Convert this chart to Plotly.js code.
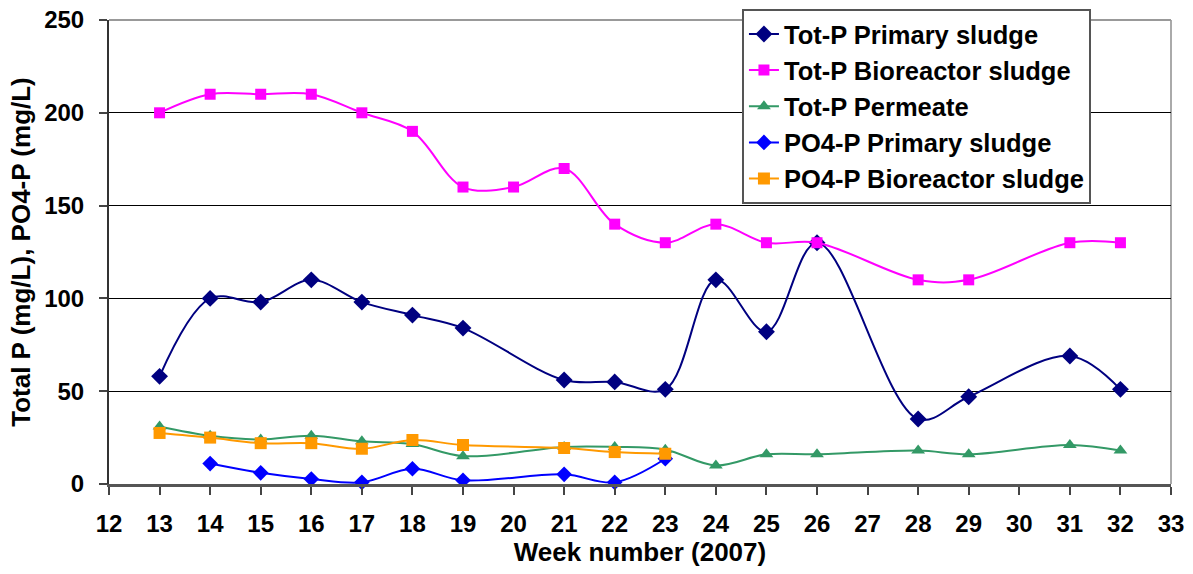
<!DOCTYPE html>
<html>
<head>
<meta charset="utf-8">
<script src="https://cdn.plot.ly/plotly-3.0.1.min.js"></script>
<style>html,body{margin:0;padding:0;background:#fff;}#chart{width:1193px;height:574px;}</style>
</head>
<body>
<div id="chart"></div>
<script>
// Week numbers (2007)
const weeksTotPrimary = [13,14,15,16,17,18,19,21,22,23,24,25,26,28,29,31,32];
const totPPrimary     = [58,100,98,110,98,91,84,56,55,51,110,82,130,35,47,69,51];

const weeksTotBio = [13,14,15,16,17,18,19,20,21,22,23,24,25,26,28,29,31,32];
const totPBio     = [200,210,210,210,200,190,160,160,170,140,130,140,130,130,110,110,130,130];

const weeksPermeate = [13,14,15,16,17,18,19,21,22,23,24,25,26,28,29,31,32];
const totPPermeate  = [31,26,24,26,23,21.5,15,20,20,18.5,10,16,16,18,16,21,18];

const weeksPO4Primary = [14,15,16,17,18,19,21,22,23];
const po4Primary      = [11,6,2.7,0.9,8.2,2,5.2,0.9,13.6];

const weeksPO4Bio = [13,14,15,16,17,18,19,21,22,23];
const po4Bio      = [27.5,25,22,22,19,23.7,21,19.4,17.2,16.3];

const xTickVals = [12,13,14,15,16,17,18,19,20,21,22,23,24,25,26,27,28,29,30,31,32,33];
const yTickVals = [0,50,100,150,200,250];

const F = '"Liberation Sans", Arial, sans-serif';

function tr(name, x, y, color, symbol, size, grp) {
  return {
    type: 'scatter', mode: 'lines+markers', name: '<b>' + name + '</b>', x: x, y: y,
    legendgroup: grp,
    line: {color: color, width: 2, shape: 'spline', smoothing: 1},
    marker: {color: color, symbol: symbol, size: size, line: {width: 0}},
    cliponaxis: false
  };
}

const data = [
  tr('Tot-P Primary sludge', weeksTotPrimary, totPPrimary, '#000080', 'diamond', 13, 'a'),
  tr('Tot-P Bioreactor sludge', weeksTotBio, totPBio, '#FF00FF', 'square', 11, 'b'),
  tr('Tot-P Permeate', weeksPermeate, totPPermeate, '#339966', 'triangle-up', 12, 'c'),
  tr('PO4-P Primary sludge', weeksPO4Primary, po4Primary, '#0000FF', 'diamond', 12, 'd'),
  tr('PO4-P Bioreactor sludge', weeksPO4Bio, po4Bio, '#FF9900', 'square', 12, 'e')
];

const layout = {
  width: 1193, height: 574,
  margin: {l: 109, r: 22, t: 20, b: 90, autoexpand: false},
  paper_bgcolor: '#ffffff', plot_bgcolor: '#ffffff',
  font: {family: F, size: 21, color: '#000'},
  showlegend: true,
  legend: {
    x: 0.596, y: 1.024, xanchor: 'left', yanchor: 'top',
    bgcolor: '#ffffff', bordercolor: '#555', borderwidth: 2,
    font: {family: F, size: 25.5, color: '#000'},
    traceorder: 'grouped', tracegroupgap: 0
  },
  xaxis: {
    range: [12, 33], tickmode: 'array', tickvals: xTickVals,
    ticktext: xTickVals.map(v => '<b>' + v + '</b>'),
    showgrid: false, zeroline: false,
    showline: true, linecolor: '#555', linewidth: 3,
    ticks: 'outside', ticklen: 8, tickwidth: 2, tickcolor: '#444',
    ticklabelstandoff: 8,
    tickfont: {family: F, size: 24, color: '#000'},
    title: {text: '<b>Week number (2007)</b>', font: {family: F, size: 26, color: '#000'}, standoff: 2}
  },
  yaxis: {
    range: [0, 250], tickmode: 'array', tickvals: yTickVals,
    ticktext: yTickVals.map(v => '<b>' + v + '</b>'),
    showgrid: true, gridcolor: '#000', gridwidth: 1,
    zeroline: false,
    showline: true, linecolor: '#333', linewidth: 2,
    ticks: 'outside', ticklen: 8, tickwidth: 2, tickcolor: '#444',
    ticklabelstandoff: 10,
    tickfont: {family: F, size: 24, color: '#000'},
    title: {text: '<b>Total P (mg/L), PO4-P (mg/L)</b>', font: {family: F, size: 26, color: '#000'}, standoff: 6}
  },
  shapes: [
    {type: 'line', xref: 'paper', yref: 'paper', x0: 0, x1: 1, y0: 1, y1: 1, line: {color: '#999', width: 2}, layer: 'above'},
    {type: 'line', xref: 'paper', yref: 'paper', x0: 1, x1: 1, y0: 0, y1: 1, line: {color: '#aaa', width: 2}, layer: 'below'}
  ]
};

Plotly.newPlot('chart', data, layout, {displayModeBar: false, staticPlot: true});
</script>
</body>
</html>
